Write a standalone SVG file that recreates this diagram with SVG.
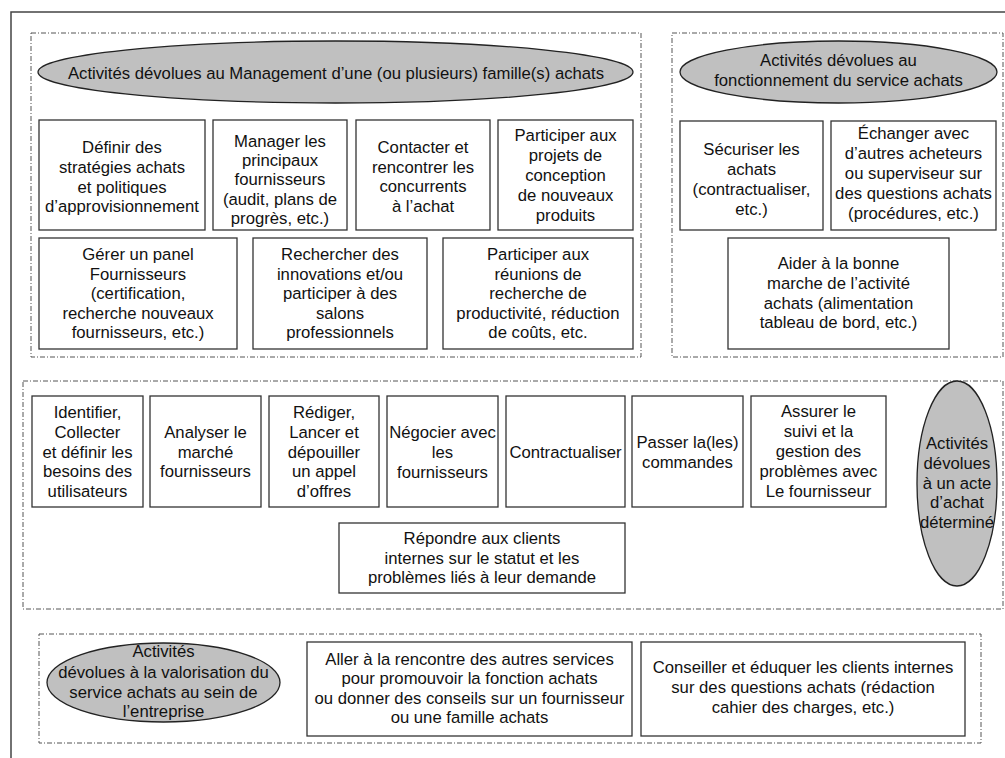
<svg xmlns="http://www.w3.org/2000/svg" width="1005" height="758" viewBox="0 0 1005 758">
<style>
text{font-family:"Liberation Sans",Arial,sans-serif;font-size:16.7px;fill:#111;text-anchor:middle}
.box{fill:#fff;stroke:#333;stroke-width:1.3}
.grp{fill:none;stroke:#555;stroke-width:1;stroke-dasharray:5 2 1 2}
.ell{fill:#c0c0c0;stroke:#222;stroke-width:1.3}
.frame{fill:none;stroke:#444;stroke-width:1.5}
</style>
<rect width="1005" height="758" fill="#fff"/>
<rect class="frame" x="11" y="12" width="1010" height="770"/>
<g id="groups">
<rect class="grp" x="31" y="33" width="610" height="324"/>
<rect class="grp" x="672" y="33" width="331" height="324"/>
<rect class="grp" x="23" y="381" width="980" height="228"/>
<rect class="grp" x="39" y="634" width="942" height="109"/>
</g>
<g id="connectors"></g>
<g id="title-management">
<ellipse class="ell" cx="335.5" cy="72" rx="297.5" ry="31"/>
<text x="336" y="79">Activités dévolues au Management d’une (ou plusieurs) famille(s) achats</text>
</g>
<g id="n1"><rect class="box" x="39" y="120" width="166" height="110"/>
<text x="122" y="153.3">Définir des</text><text x="122" y="173">stratégies achats</text><text x="122" y="192.7">et politiques</text><text x="122" y="212.3">d’approvisionnement</text></g>
<g id="n2"><rect class="box" x="213" y="120" width="134" height="110"/>
<text x="280" y="146.7">Manager les</text><text x="280" y="166">principaux</text><text x="280" y="185.3">fournisseurs</text><text x="280" y="204.7">(audit, plans de</text><text x="280" y="224">progrès, etc.)</text></g>
<g id="n3"><rect class="box" x="356" y="120" width="134" height="110"/>
<text x="423" y="153">Contacter et</text><text x="423" y="172.7">rencontrer les</text><text x="423" y="192.3">concurrents</text><text x="423" y="212">à l’achat</text></g>
<g id="n4"><rect class="box" x="498" y="120" width="135" height="110"/>
<text x="565.5" y="141">Participer aux</text><text x="565.5" y="161">projets de</text><text x="565.5" y="181">conception</text><text x="565.5" y="201">de nouveaux</text><text x="565.5" y="221">produits</text></g>
<g id="n5"><rect class="box" x="39" y="238" width="198" height="111"/>
<text x="138" y="260">Gérer un panel</text><text x="138" y="279.5">Fournisseurs</text><text x="138" y="299">(certification,</text><text x="138" y="318.5">recherche nouveaux</text><text x="138" y="338">fournisseurs, etc.)</text></g>
<g id="n6"><rect class="box" x="253" y="238" width="174" height="111"/>
<text x="340" y="260">Rechercher des</text><text x="340" y="279.5">innovations et/ou</text><text x="340" y="299">participer à des</text><text x="340" y="318.5">salons</text><text x="340" y="338">professionnels</text></g>
<g id="n7"><rect class="box" x="443" y="238" width="190" height="111"/>
<text x="538" y="260">Participer aux</text><text x="538" y="279.5">réunions de</text><text x="538" y="299">recherche de</text><text x="538" y="318.5">productivité, réduction</text><text x="538" y="338">de coûts, etc.</text></g>
<g id="title-fonctionnement">
<ellipse class="ell" cx="838.5" cy="72" rx="158.5" ry="31"/>
<text x="838.5" y="66">Activités dévolues au</text><text x="838.5" y="86">fonctionnement du service achats</text>
</g>
<g id="s1"><rect class="box" x="680" y="121" width="143" height="109"/>
<text x="751.5" y="155">Sécuriser les</text><text x="751.5" y="175">achats</text><text x="751.5" y="195">(contractualiser,</text><text x="751.5" y="215">etc.)</text></g>
<g id="s2"><rect class="box" x="831" y="121" width="165" height="109"/>
<text x="913.5" y="139.3">Échanger avec</text><text x="913.5" y="159.3">d’autres acheteurs</text><text x="913.5" y="179.3">ou superviseur sur</text><text x="913.5" y="199.3">des questions achats</text><text x="913.5" y="219.3">(procédures, etc.)</text></g>
<g id="s3"><rect class="box" x="728" y="238" width="221" height="111"/>
<text x="838.5" y="269.3">Aider à la bonne</text><text x="838.5" y="289">marche de l’activité</text><text x="838.5" y="308.7">achats (alimentation</text><text x="838.5" y="328.3">tableau de bord, etc.)</text></g>
<g id="m1"><rect class="box" x="32" y="396" width="111" height="111"/>
<text x="87.5" y="418.3">Identifier,</text><text x="87.5" y="437.9">Collecter</text><text x="87.5" y="457.5">et définir les</text><text x="87.5" y="477.1">besoins des</text><text x="87.5" y="496.7">utilisateurs</text></g>
<g id="m2"><rect class="box" x="150" y="396" width="111" height="111"/>
<text x="205.5" y="438.3">Analyser le</text><text x="205.5" y="457.8">marché</text><text x="205.5" y="477.3">fournisseurs</text></g>
<g id="m3"><rect class="box" x="269" y="396" width="110" height="111"/>
<text x="324" y="418.3">Rédiger,</text><text x="324" y="437.9">Lancer et</text><text x="324" y="457.5">dépouiller</text><text x="324" y="477.1">un appel</text><text x="324" y="496.7">d’offres</text></g>
<g id="m4"><rect class="box" x="387" y="396" width="111" height="111"/>
<text x="442.5" y="437.5">Négocier avec</text><text x="442.5" y="457.5">les</text><text x="442.5" y="477.5">fournisseurs</text></g>
<g id="m5"><rect class="box" x="506" y="396" width="119" height="111"/>
<text x="565.5" y="458.3">Contractualiser</text></g>
<g id="m6"><rect class="box" x="632" y="396" width="111" height="111"/>
<text x="687.5" y="448.3">Passer la(les)</text><text x="687.5" y="468">commandes</text></g>
<g id="m7"><rect class="box" x="751" y="396" width="135" height="111"/>
<text x="818.5" y="417.3">Assurer le</text><text x="818.5" y="437.1">suivi et la</text><text x="818.5" y="457">gestion des</text><text x="818.5" y="476.8">problèmes avec</text><text x="818.5" y="496.7">Le fournisseur</text></g>
<g id="m8"><rect class="box" x="339" y="523" width="286" height="70"/>
<text x="482" y="544.3">Répondre aux clients</text><text x="482" y="563.8">internes sur le statut et les</text><text x="482" y="583.3">problèmes liés à leur demande</text></g>
<g id="title-acte">
<ellipse class="ell" cx="957" cy="483.5" rx="40" ry="102.5"/>
<text x="957" y="449">Activités</text><text x="957" y="468.75">dévolues</text><text x="957" y="488.5">à un acte</text><text x="957" y="508.25">d’achat</text><text x="957" y="528">déterminé</text>
</g>
<g id="title-valorisation">
<ellipse class="ell" cx="163.5" cy="682.5" rx="116.5" ry="39.5"/>
<text x="163.5" y="657">Activités</text><text x="163.5" y="677.5">dévolues à la valorisation du</text><text x="163.5" y="697.5">service achats au sein de</text><text x="163.5" y="717">l’entreprise</text>
</g>
<g id="b1"><rect class="box" x="307" y="642" width="325" height="94"/>
<text x="469.5" y="665">Aller à la rencontre des autres services</text><text x="469.5" y="684.4">pour promouvoir la fonction achats</text><text x="469.5" y="703.9">ou donner des conseils sur un fournisseur</text><text x="469.5" y="723.3">ou une famille achats</text></g>
<g id="b2"><rect class="box" x="641" y="642" width="324" height="94"/>
<text x="803" y="673.3">Conseiller et éduquer les clients internes</text><text x="803" y="693.3">sur des questions achats (rédaction</text><text x="803" y="713.3">cahier des charges, etc.)</text></g>
</svg>
